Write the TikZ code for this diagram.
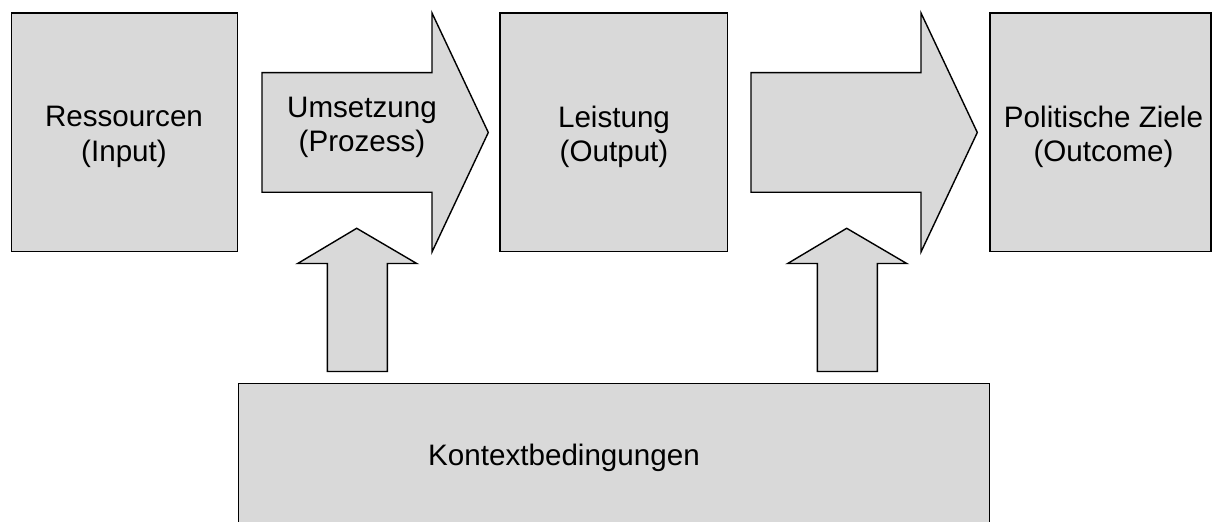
\documentclass[tikz,border=0pt]{standalone}
\usepackage{fontspec}
\setmainfont{Liberation Sans}
\usetikzlibrary{positioning}
\definecolor{boxgray}{HTML}{D9D9D9}

\begin{document}
\begin{tikzpicture}[x=0.5pt,y=-0.5pt,line width=0.7pt,line join=miter]
 \tikzstyle{box node}=[rectangle,draw=black,fill=boxgray,inner sep=0]
 \tikzstyle{text node}=[align=center,inner sep=0,font=\fontsize{14.8}{17.3}\selectfont]
 \tikzset{
 	block arrow/.style={draw=black,fill=boxgray}
 }

 \useasboundingbox (0,0) rectangle (1215,522);
 \clip (0,0) rectangle (1215,522);

       \node[box node,minimum width=113pt,minimum height=119.35pt] (res) at (124.7,132.4) {};
       \node[box node,minimum width=113.65pt,minimum height=119.35pt] (lei) at (613.7,132.4) {};
       \node[box node,minimum width=110.5pt,minimum height=119.35pt] (pol) at (1100.5,132.4) {};
       \node[box node,minimum width=375.5pt,minimum height=74pt] (ktx) at (613.8,457.3) {};

     % Umsetzung und Wirkung
     \draw[block arrow] (262,72.7) -- (432,72.7) -- (432,13) -- (488.3,132.5)
        -- (432,252) -- (432,192.3) -- (262,192.3) -- cycle;
     \draw[block arrow] (751,72.7) -- (921,72.7) -- (921,13) -- (977.3,132.5)
        -- (921,252) -- (921,192.3) -- (751,192.3) -- cycle;

     % Einfluss der Kontextbedingungen
     \draw[block arrow] (356.7,228.3) -- (416.7,263.5) -- (387.3,263.5) -- (387.3,371.5)
        -- (327.3,371.5) -- (327.3,263.5) -- (297.7,263.5) -- cycle;
     \draw[block arrow] (846.7,228.3) -- (906.7,263.5) -- (877.3,263.5) -- (877.3,371.5)
        -- (817.3,371.5) -- (817.3,263.5) -- (787.7,263.5) -- cycle;

       \node[text node] (resT) at (124,137) {Ressourcen\\(Input)};
       \node[text node] (umsT) at (362,127.5) {Umsetzung\\(Prozess)};
       \node[text node] (leiT) at (614,137) {Leistung\\(Output)};
       \node[text node] (polT) at (1103.5,137) {Politische Ziele\\(Outcome)};
       \node[text node] (ktxT) at (564,458) {Kontextbedingungen};
 \end{tikzpicture}
\end{document}
